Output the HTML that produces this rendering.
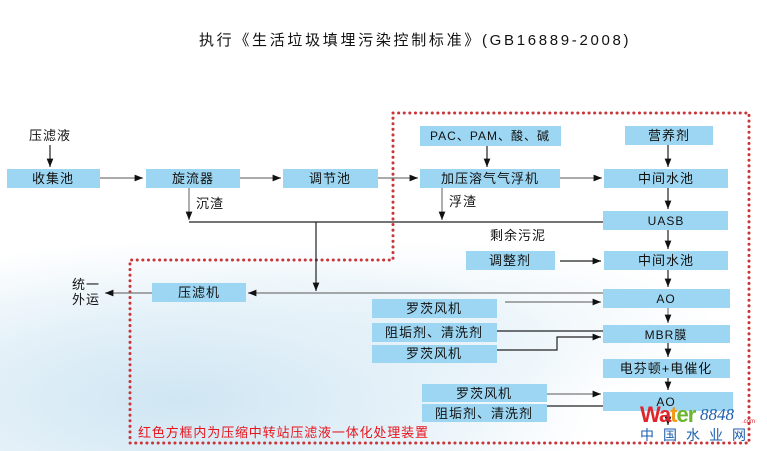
<!DOCTYPE html>
<html><head><meta charset="utf-8"><style>
html,body{margin:0;padding:0;}
body{width:767px;height:451px;overflow:hidden;position:relative;background:#fff;font-family:"Liberation Sans","Noto Sans CJK SC",sans-serif;}
.bg{position:absolute;left:0;top:0;width:767px;height:451px;
background:radial-gradient(ellipse 420px 160px at 180px 400px,#cfe6f3 0%,#e3f0f8 50%,rgba(255,255,255,0) 100%),
radial-gradient(ellipse 300px 90px at 420px 330px,#e6f2f9 0%,rgba(255,255,255,0) 100%);}
svg{position:absolute;left:0;top:0;}
text{font-family:"Liberation Sans","Noto Sans CJK SC",sans-serif;font-size:13px;fill:#111;letter-spacing:1px;}
.b{fill:#9dd6f2;}
.l{stroke:#222;stroke-width:1.2;fill:none;}
.g{stroke:#777;stroke-width:1.2;fill:none;}
.r{stroke:#c8363a;stroke-width:3;stroke-dasharray:0.1 5.5;stroke-linecap:round;fill:none;}
</style></head><body>
<div class="bg"></div>
<svg width="767" height="451" viewBox="0 0 767 451">
<defs><marker id="a" viewBox="0 0 10 10" refX="10" refY="5" markerWidth="7" markerHeight="7" orient="auto"><path d="M0,1 L10,5 L0,9z" fill="#111"/></marker></defs>
<text x="415" y="45" text-anchor="middle" textLength="432" lengthAdjust="spacing" style="font-size:15px;letter-spacing:2.5px">执行《生活垃圾填埋污染控制标准》(GB16889-2008)</text>

<path class="r" d="M393,113 L749,113 L749,443 L130,443 L130,260 L393,260 Z"/>

<rect class="b" x="7" y="169" width="93" height="19"/><text x="53" y="183" text-anchor="middle">收集池</text>
<rect class="b" x="146" y="169" width="94" height="19"/><text x="193" y="183" text-anchor="middle">旋流器</text>
<rect class="b" x="283" y="169" width="95" height="19"/><text x="330" y="183" text-anchor="middle">调节池</text>
<rect class="b" x="420" y="126" width="141" height="20"/><text x="490" y="140" text-anchor="middle" style="font-size:12px">PAC、PAM、酸、碱</text>
<rect class="b" x="625" y="126" width="88" height="19"/><text x="669" y="140" text-anchor="middle">营养剂</text>
<rect class="b" x="420" y="169" width="140" height="19"/><text x="490" y="183" text-anchor="middle">加压溶气气浮机</text>
<rect class="b" x="604" y="169" width="124" height="19"/><text x="666" y="183" text-anchor="middle">中间水池</text>
<rect class="b" x="603" y="211" width="125" height="19"/><text x="666" y="225" text-anchor="middle" style="font-size:12px">UASB</text>
<rect class="b" x="466" y="251" width="89" height="19"/><text x="510" y="265" text-anchor="middle">调整剂</text>
<rect class="b" x="604" y="251" width="124" height="19"/><text x="666" y="265" text-anchor="middle">中间水池</text>
<rect class="b" x="603" y="289" width="127" height="19"/><text x="666" y="303" text-anchor="middle" style="font-size:12px">AO</text>
<rect class="b" x="152" y="283" width="94" height="19"/><text x="199" y="297" text-anchor="middle">压滤机</text>
<rect class="b" x="372" y="299" width="125" height="19"/><text x="434" y="313" text-anchor="middle">罗茨风机</text>
<rect class="b" x="372" y="323" width="125" height="19"/><text x="434" y="337" text-anchor="middle">阻垢剂、清洗剂</text>
<rect class="b" x="372" y="345" width="125" height="18"/><text x="434" y="358" text-anchor="middle">罗茨风机</text>
<rect class="b" x="603" y="325" width="127" height="18"/><text x="666" y="339" text-anchor="middle" style="font-size:12px">MBR膜</text>
<rect class="b" x="603" y="359" width="127" height="19"/><text x="666" y="373" text-anchor="middle">电芬顿+电催化</text>
<rect class="b" x="422" y="384" width="125" height="18"/><text x="484" y="398" text-anchor="middle">罗茨风机</text>
<rect class="b" x="422" y="404" width="125" height="18"/><text x="484" y="418" text-anchor="middle">阻垢剂、清洗剂</text>
<rect class="b" x="603" y="392" width="130" height="19"/><text x="666" y="406" text-anchor="middle" style="font-size:12px">AO</text>

<text x="50" y="140" text-anchor="middle">压滤液</text>
<text x="196" y="208">沉渣</text>
<text x="449" y="206">浮渣</text>
<text x="490" y="240">剩余污泥</text>
<text x="72" y="289">统一</text>
<text x="72" y="304">外运</text>

<path class="l" d="M50,145 V167" marker-end="url(#a)"/>
<path class="g" d="M100,178 H143" marker-end="url(#a)"/>
<path class="g" d="M240,178 H281" marker-end="url(#a)"/>
<path class="g" d="M378,178 H418" marker-end="url(#a)"/>
<path class="g" d="M560,178 H602" marker-end="url(#a)"/>
<path class="l" d="M487,146 V167" marker-end="url(#a)"/>
<path class="l" d="M668,145 V167" marker-end="url(#a)"/>
<path class="l" d="M668,188 V209" marker-end="url(#a)"/>
<path class="l" d="M668,230 V249" marker-end="url(#a)"/>
<path class="l" d="M668,270 V287" marker-end="url(#a)"/>
<path class="g" d="M668,308 V323" marker-end="url(#a)"/>
<path class="l" d="M668,343 V357" marker-end="url(#a)"/>
<path class="l" d="M668,378 V390" marker-end="url(#a)"/>
<path class="l" d="M668,411 V425" marker-end="url(#a)"/>
<path class="g" d="M189,188 V220" marker-end="url(#a)"/>
<path class="g" d="M442,188 V220" marker-end="url(#a)"/>
<path class="l" d="M189,222 H603"/>
<path class="l" d="M316,222 V291" marker-end="url(#a)"/>
<path class="g" d="M603,293 H248" marker-end="url(#a)"/>
<path class="g" d="M152,293 H105" marker-end="url(#a)"/>
<path class="l" d="M560,261 H601" marker-end="url(#a)"/>
<path class="g" d="M505,302 H601" marker-end="url(#a)"/>
<path class="l" d="M497,331 H603"/>
<path class="l" d="M497,350 H557 V337 H601" marker-end="url(#a)"/>
<path class="g" d="M547,394 H601" marker-end="url(#a)"/>
<path class="l" d="M547,406 H603"/>

<text x="138" y="437" textLength="290" lengthAdjust="spacing" style="fill:#e8141c;font-size:13px;letter-spacing:0">红色方框内为压缩中转站压滤液一体化处理装置</text>

<text x="640" y="422" style="font-size:22px;font-weight:bold;letter-spacing:-1px;fill:#e0262a">Wa<tspan style="fill:#f29a1a">t</tspan><tspan style="fill:#6cb52d">er</tspan></text>
<text x="700" y="420" style="font-size:17px;font-style:italic;fill:#1f5fae;font-family:'Liberation Serif',serif;letter-spacing:0">8848</text>
<text x="742" y="423" style="font-size:6px;fill:#e0262a;letter-spacing:0">.com</text>
<text x="640" y="440" style="font-size:14px;fill:#1d5fb0;letter-spacing:9px">中国水业网</text>
</svg>
</body></html>
